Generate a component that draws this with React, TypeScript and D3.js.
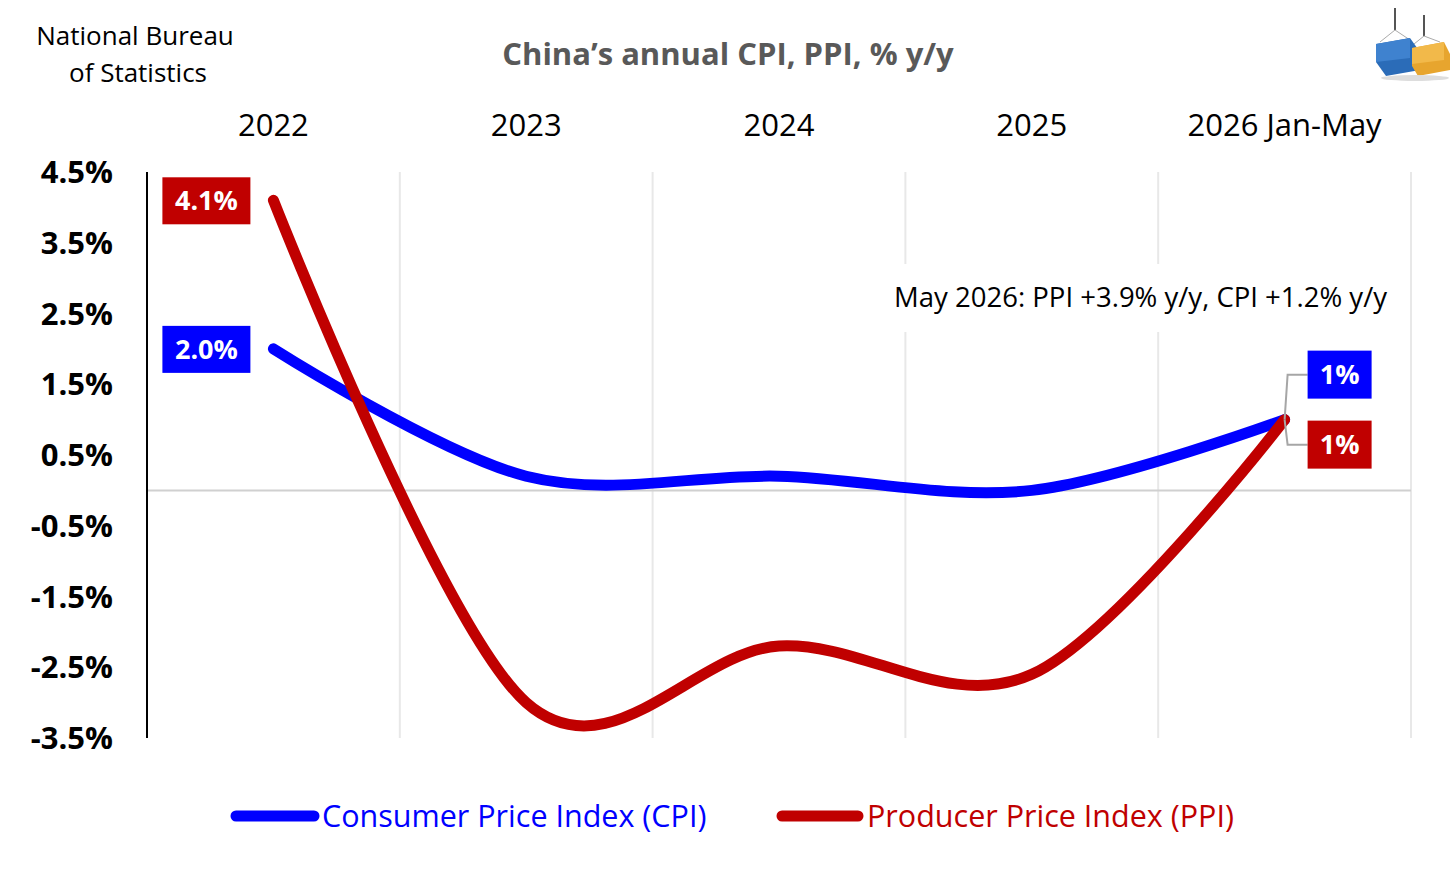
import * as d3 from 'd3';

const categories = ['2022', '2023', '2024', '2025', '2026 Jan-May'];
const cpiValues = [2.0, 0.2, 0.2, 0.0, 1.0];
const ppiValues = [4.1, -3.0, -2.2, -2.6, 1.0];
const yTicks = [4.5, 3.5, 2.5, 1.5, 0.5, -0.5, -1.5, -2.5, -3.5];
const firstLabels = ['2.0%', '4.1%'];
const lastLabels = ['1%', '1%'];

const BLUE = '#0000FF';
const RED = '#C00000';
const FONT = "'Open Sans', 'Noto Sans', sans-serif";

export default function App() {
    const width = 1456;
    const height = 874;
    const margin = { top: 172, right: 45, bottom: 136, left: 147 };

    const x = d3.scaleBand().domain(categories).range([margin.left, width - margin.right]);
    const y = d3.scaleLinear().domain([-3.5, 4.5]).range([height - margin.bottom, margin.top]);
    const cx = (c: string) => (x(c) || 0) + x.bandwidth() / 2;

    // Excel-style smoothed line
    const line = d3.line<number>()
        .x((_, i) => cx(categories[i]))
        .y((d) => y(d))
        .curve(d3.curveCardinal.tension(0));

    const last = categories[categories.length - 1];
    const lx = cx(last);
    const cpiLastY = y(cpiValues[cpiValues.length - 1]);
    const ppiLastY = y(ppiValues[ppiValues.length - 1]);
    const blueBoxY = cpiLastY - 45;
    const redBoxY = ppiLastY + 25;

    const gridXs = categories.slice(1).map((c) => x(c) || 0).concat([width - margin.right]);

    return (
        <div style={{ position: 'absolute', left: 0, top: 0 }}>
            <svg width={width} height={height} style={{ display: 'block', background: '#fff' }}>
                {/* source */}
                <text x={135} y={45} textAnchor="middle" fontFamily={FONT} fontSize={26} fill="#000">National Bureau</text>
                <text x={138} y={82} textAnchor="middle" fontFamily={FONT} fontSize={26} fill="#000">of Statistics</text>

                {/* title */}
                <text x={728} y={65} textAnchor="middle" fontFamily={FONT} fontSize={31} fontWeight="bold" fill="#595959">China’s annual CPI, PPI, % y/y</text>

                {/* logo */}
                <g>
                    <line x1={1395} y1={8} x2={1395} y2={30} stroke="#555" strokeWidth={2} />
                    <line x1={1424} y1={15} x2={1424} y2={36} stroke="#555" strokeWidth={2} />
                    <line x1={1395} y1={30} x2={1380} y2={42} stroke="#aaa" strokeWidth={1} />
                    <line x1={1395} y1={30} x2={1410} y2={40} stroke="#aaa" strokeWidth={1} />
                    <line x1={1424} y1={36} x2={1414} y2={44} stroke="#aaa" strokeWidth={1} />
                    <line x1={1424} y1={36} x2={1440} y2={42} stroke="#aaa" strokeWidth={1} />
                    <polygon points="1376,44 1410,38 1420,52 1420,70 1386,76 1376,62" fill="#2B6CB8" />
                    <polygon points="1376,44 1410,38 1410,58 1376,62" fill="#3F82CF" />
                    <polygon points="1412,48 1444,42 1450,54 1450,70 1418,76 1412,66" fill="#E7A52E" />
                    <polygon points="1412,48 1444,42 1444,60 1412,64" fill="#F2B94A" />
                    <ellipse cx={1415} cy={78} rx={34} ry={3} fill="#ddd" />
                </g>

                {/* top category labels */}
                {categories.map((c) => (
                    <text key={c} x={cx(c)} y={136} textAnchor="middle" fontFamily={FONT} fontSize={31} fill="#000">{c}</text>
                ))}

                {/* gridlines */}
                {gridXs.map((gx, i) => (
                    <line key={i} x1={gx} x2={gx} y1={y(4.5)} y2={y(-3.5)} stroke="#E8E8E8" strokeWidth={2} />
                ))}
                <line x1={margin.left} x2={width - margin.right} y1={y(0)} y2={y(0)} stroke="#D0D0D0" strokeWidth={2} />
                <line x1={margin.left} x2={margin.left} y1={y(4.5)} y2={y(-3.5)} stroke="#000" strokeWidth={2} />

                {/* y tick labels */}
                {yTicks.map((t) => (
                    <text key={t} x={113} y={y(t)} dy="0.36em" textAnchor="end" fontFamily={FONT} fontSize={31} fontWeight="bold" fill="#000">{t.toFixed(1)}%</text>
                ))}

                {/* annotation */}
                <rect x={882} y={264} width={512} height={68} fill="#fff" />
                <text x={1387} y={307} textAnchor="end" fontFamily={FONT} fontSize={27.5} fill="#000">May 2026: PPI +3.9% y/y, CPI +1.2% y/y</text>

                {/* series */}
                <path d={line(cpiValues) || ''} fill="none" stroke={BLUE} strokeWidth={11} strokeLinecap="round" />
                <path d={line(ppiValues) || ''} fill="none" stroke={RED} strokeWidth={11} strokeLinecap="round" />

                {/* first-point labels */}
                {[cpiValues[0], ppiValues[0]].map((v, i) => (
                    <g key={i}>
                        <rect x={cx(categories[0]) - 111} y={y(v) - 23} width={88} height={47} fill={i === 0 ? BLUE : RED} />
                        <text x={cx(categories[0]) - 67} y={y(v)} dy="0.36em" textAnchor="middle" fontFamily={FONT} fontSize={27} fontWeight="bold" fill="#fff">{firstLabels[i]}</text>
                    </g>
                ))}

                {/* last-point labels with leaders */}
                <polyline points={`${lx},${cpiLastY} ${lx + 3},${blueBoxY} ${lx + 23},${blueBoxY}`} fill="none" stroke="#A6A6A6" strokeWidth={2} />
                <polyline points={`${lx},${ppiLastY} ${lx + 3},${redBoxY} ${lx + 23},${redBoxY}`} fill="none" stroke="#A6A6A6" strokeWidth={2} />
                {[blueBoxY, redBoxY].map((by, i) => (
                    <g key={i}>
                        <rect x={lx + 23} y={by - 24} width={64} height={48} fill={i === 0 ? BLUE : RED} />
                        <text x={lx + 55} y={by} dy="0.36em" textAnchor="middle" fontFamily={FONT} fontSize={27} fontWeight="bold" fill="#fff">{lastLabels[i]}</text>
                    </g>
                ))}

                {/* legend */}
                <line x1={236} x2={314} y1={816} y2={816} stroke={BLUE} strokeWidth={11} strokeLinecap="round" />
                <text x={322} y={816} dy="0.36em" fontFamily={FONT} fontSize={30.5} fill={BLUE}>Consumer Price Index (CPI)</text>
                <line x1={782} x2={858} y1={816} y2={816} stroke={RED} strokeWidth={11} strokeLinecap="round" />
                <text x={867} y={816} dy="0.36em" fontFamily={FONT} fontSize={30.5} fill={RED}>Producer Price Index (PPI)</text>
            </svg>
        </div>
    );
}
